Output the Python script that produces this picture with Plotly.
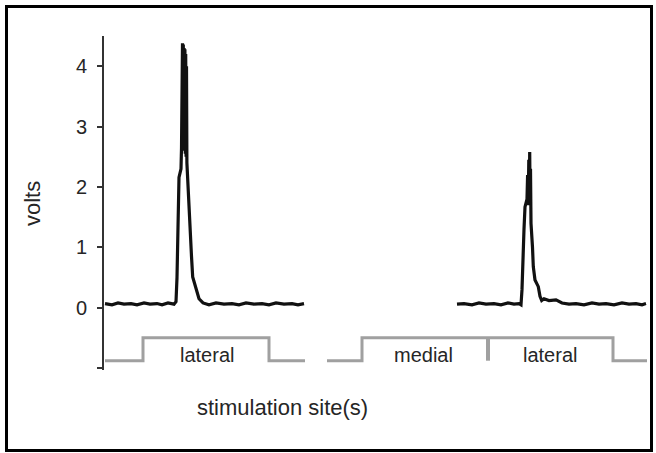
import plotly.graph_objects as go

# ---- data (time in arbitrary units, voltage in volts) ----
trace1_t = [1, 8, 14, 20, 27, 33, 40, 46, 53, 58, 64, 70,
            72, 73, 75, 77, 77.5, 78, 78.5, 78.9, 79.3, 79.7, 80.1, 80.5, 80.9, 81.3, 81.7, 82.1, 82.5, 82.9,
            83.2, 85, 86.7, 87.5, 88.7, 90.5, 92.7, 95, 99,
            105, 112, 120, 128, 135, 142, 150, 158, 165, 172, 180, 188, 194, 200]
trace1_v = [0.07, 0.05, 0.08, 0.06, 0.07, 0.05, 0.08, 0.06, 0.07, 0.05, 0.08, 0.06,
            0.10, 0.50, 2.16, 2.30, 2.64, 4.10, 4.38, 2.70, 4.36, 2.65, 4.30, 2.60, 4.28, 2.55, 4.20, 2.50, 4.00, 2.40,
            2.28, 1.62, 1.00, 0.85, 0.51, 0.40, 0.25, 0.15, 0.08,
            0.05, 0.08, 0.06, 0.07, 0.05, 0.08, 0.06, 0.07, 0.05, 0.08, 0.06, 0.07, 0.05, 0.07]

trace2_t = [353, 360, 368, 375, 382, 390, 397, 404, 410, 415, 417,
            418, 420, 421, 423, 423.6, 424.2, 424.8, 425.3, 425.7, 426.1, 426.5, 427,
            428.5, 429.3, 431, 434.3, 436, 437.7,
            440, 445, 452, 458, 465, 472, 480, 488, 495, 502, 510, 518, 525, 532, 538, 542]
trace2_v = [0.06, 0.07, 0.05, 0.08, 0.06, 0.07, 0.05, 0.08, 0.06, 0.07, 0.05,
            0.30, 1.30, 1.67, 1.80, 2.20, 1.70, 2.45, 1.75, 2.58, 1.80, 2.30, 1.40,
            1.00, 0.68, 0.46, 0.35, 0.19, 0.12,
            0.15, 0.12, 0.13, 0.08, 0.06, 0.07, 0.05, 0.08, 0.06, 0.07, 0.05, 0.08, 0.06, 0.07, 0.05, 0.07]

# stimulation steps (off / on levels drawn below the traces)
step_low = -0.876
step_high = -0.496
step1_t = [1, 39, 39, 165, 165, 201]
step1_v = [step_low, step_low, step_high, step_high, step_low, step_low]
step2_t = [223, 258, 258, 509, 509, 543]
step2_v = [step_low, step_low, step_high, step_high, step_low, step_low]
divider_t = [384, 384]
divider_v = [step_high, step_low]

stim_labels = ["lateral", "medial", "lateral"]
stim_label_t = [103, 319, 446]
stim_label_v = -0.777

y_tickvals = [-1, 0, 1, 2, 3, 4]
y_ticktext = ["", "0", "1", "2", "3", "4"]

# ---- figure ----
W, H = 656, 453
ML, MR, MT, MB = 104, 6, 36, 83
pw, ph = W - ML - MR, H - MT - MB

def px2paper_x(px):
    return (px - ML) / pw

def px2paper_y(py):
    return (H - MB - py) / ph

FONT = "Liberation Sans, Arial, Helvetica, sans-serif"
TXT = "#262626"
GRAY = "#a0a0a0"

fig = go.Figure()
for t, v in [(step1_t, step1_v), (step2_t, step2_v)]:
    fig.add_trace(go.Scatter(x=t, y=v, mode="lines",
                             line=dict(color=GRAY, width=3), hoverinfo="skip"))
fig.add_trace(go.Scatter(x=divider_t, y=divider_v, mode="lines",
                         line=dict(color=GRAY, width=4), hoverinfo="skip"))
for t, v in [(trace1_t, trace1_v), (trace2_t, trace2_v)]:
    fig.add_trace(go.Scatter(x=t, y=v, mode="lines",
                             line=dict(color="#111111", width=3.2)))

for lab, t in zip(stim_labels, stim_label_t):
    fig.add_annotation(x=t, y=stim_label_v, xref="x", yref="y", text=lab,
                       showarrow=False, font=dict(family=FONT, size=20, color=TXT),
                       xanchor="center", yanchor="middle")

fig.add_annotation(x=px2paper_x(32), y=px2paper_y(204), xref="paper", yref="paper",
                   text="volts", textangle=-90, showarrow=False,
                   font=dict(family=FONT, size=22, color=TXT),
                   xanchor="center", yanchor="middle")
fig.add_annotation(x=px2paper_x(282), y=px2paper_y(408), xref="paper", yref="paper",
                   text="stimulation site(s)", showarrow=False,
                   font=dict(family=FONT, size=22, color=TXT),
                   xanchor="center", yanchor="middle")

# outer frame
fig.add_shape(type="rect", xref="paper", yref="paper",
              x0=px2paper_x(6.5), x1=px2paper_x(651.5),
              y0=px2paper_y(450.5), y1=px2paper_y(6.5),
              line=dict(color="black", width=3), layer="above")

fig.update_layout(
    width=W, height=H,
    margin=dict(l=ML, r=MR, t=MT, b=MB),
    paper_bgcolor="white", plot_bgcolor="white",
    showlegend=False,
    font=dict(family=FONT, size=20, color=TXT),
    xaxis=dict(range=[0, pw], visible=False, showgrid=False, zeroline=False),
    yaxis=dict(range=[-1.03, 4.5], tickvals=y_tickvals, ticktext=y_ticktext,
               showline=True, linecolor="#333333", linewidth=2,
               ticks="outside", ticklen=5, tickwidth=2, tickcolor="#333333",
               showgrid=False, zeroline=False, ticklabelstandoff=6,
               tickfont=dict(family=FONT, size=20, color=TXT)),
)

fig.write_html("out.html")
